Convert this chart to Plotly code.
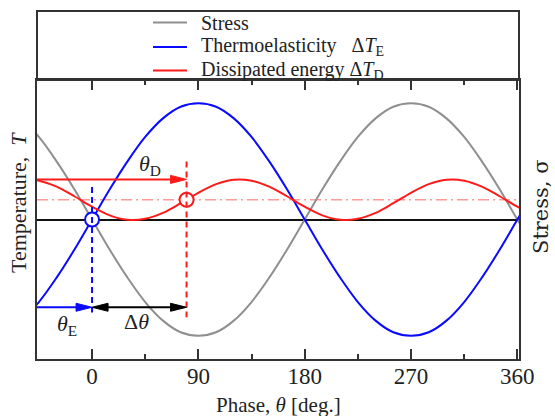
import plotly.graph_objects as go

# ---------------- data ----------------
phase = [-60, -45, -30, -15, 0, 15, 30, 45, 60, 75, 90, 105, 120, 135, 150, 165,
         180, 195, 210, 225, 240, 255, 270, 285, 300, 315, 330, 345, 360, 375]
stress = [0.87, 0.71, 0.5, 0.26, 0, -0.26, -0.5, -0.71, -0.87, -0.97, -1, -0.97,
          -0.87, -0.71, -0.5, -0.26, 0, 0.26, 0.5, 0.71, 0.87, 0.97, 1, 0.97,
          0.87, 0.71, 0.5, 0.26, 0, -0.26]
thermo = [-0.87, -0.71, -0.5, -0.26, 0, 0.26, 0.5, 0.71, 0.87, 0.97, 1, 0.97,
          0.87, 0.71, 0.5, 0.26, 0, -0.26, -0.5, -0.71, -0.87, -0.97, -1, -0.97,
          -0.87, -0.71, -0.5, -0.26, 0, 0.26]
dissip = [0.342, 0.334, 0.283, 0.200, 0.110, 0.036, -0.002, 0.006, 0.057, 0.140,
          0.230, 0.304, 0.342, 0.334, 0.283, 0.200, 0.110, 0.036, -0.002, 0.006,
          0.057, 0.140, 0.230, 0.304, 0.342, 0.334, 0.283, 0.200, 0.110, 0.036]
series_names = ["Stress",
                "Thermoelasticity\u00a0\u00a0\u00a0Δ<i>T</i><sub>E</sub>",
                "Dissipated energy Δ<i>T</i><sub>D</sub>"]
theta_E = 0
theta_D = 80
mean_D = 0.17
arrow_D_level = 0.345
arrow_E_level = -0.755
xticks = [0, 90, 180, 270, 360]
xtick_labels = ["0", "90", "180", "270", "360"]
minor_ticks = [45, 135, 225, 315]

# ---------------- styling ----------------
FONT = "Liberation Serif"
GRAY = "#8f8f8f"
BLUE = "#0a0aff"
RED = "#ff1a1a"
LRED = "#ff9a9a"
AX = "#333333"
TXT = "#222222"

W, H = 555, 416
ML, MR, MT, MB = 37, 36, 11, 57
PW, PH = W - ML - MR, H - MT - MB
XR = [-46.6, 361.4]
YR = [-1.2, 1.2]
MAIN_TOP_PX = 80
main_top_frac = (H - MB - MAIN_TOP_PX) / PH

px_x = PW / (XR[1] - XR[0])                        # px per degree
px_y = (H - MB - MAIN_TOP_PX) / (YR[1] - YR[0])    # px per unit


def pxp(px):   # pixel x -> paper
    return (px - ML) / PW


def pyp(py):   # pixel y -> paper
    return (H - MB - py) / PH


fig = go.Figure()

colors = [GRAY, BLUE, RED]
for name, ys, c in zip(series_names, [stress, thermo, dissip], colors):
    fig.add_trace(go.Scatter(x=phase, y=ys, mode="lines", name=name, showlegend=False,
                             line=dict(color=c, width=2, shape="spline")))

# mean dissipated level (dash-dot)
fig.add_shape(type="line", x0=XR[0], x1=XR[1], y0=mean_D, y1=mean_D,
              line=dict(color=LRED, width=1.5, dash="11px,4px,2px,4px"), layer="below")

# phase markers (dashed verticals)
fig.add_shape(type="line", x0=theta_E, x1=theta_E, y0=0.28, y1=-0.80,
              line=dict(color=BLUE, width=2, dash="6px,4px"))
fig.add_shape(type="line", x0=theta_D, x1=theta_D, y0=0.50, y1=-0.84,
              line=dict(color=RED, width=2, dash="6px,4px"))

HL = 16 / px_x   # arrow head length in degrees
HW = 4 / px_y    # arrow half width in units


def head(tip_x, y, direction, color):
    bx = tip_x - direction * HL
    path = f"M {tip_x},{y} L {bx},{y + HW} L {bx},{y - HW} Z"
    fig.add_shape(type="path", path=path, fillcolor=color,
                  line=dict(color=color, width=1))


def arrow(x0, x1, y, color, both=False):
    start = x0 + (HL if both else 0)
    fig.add_shape(type="line", x0=start, x1=x1 - HL * 0.8, y0=y, y1=y,
                  line=dict(color=color, width=2))
    head(x1, y, 1, color)
    if both:
        head(x0, y, -1, color)


arrow(XR[0], theta_D, arrow_D_level, RED)
arrow(XR[0], theta_E, arrow_E_level, BLUE)
arrow(theta_E, theta_D, arrow_E_level, "black", both=True)

# open circles
fig.add_trace(go.Scatter(x=[theta_E], y=[0], mode="markers", showlegend=False,
                         marker=dict(symbol="circle", size=14, color="white",
                                     line=dict(color=BLUE, width=2))))
fig.add_trace(go.Scatter(x=[theta_D], y=[mean_D], mode="markers", showlegend=False,
                         marker=dict(symbol="circle", size=14, color="white",
                                     line=dict(color=RED, width=2))))

# labels
lab_font = dict(family=FONT, size=22, color=TXT)
for lx, ly, lt in [(49, 0.47, "<i>θ</i><sub>D</sub>"),
                   (-21, -0.91, "<i>θ</i><sub>E</sub>"),
                   (38, -0.88, "Δ<i>θ</i>")]:
    fig.add_annotation(x=lx, y=ly, text=lt, showarrow=False, font=lab_font,
                       xanchor="center", yanchor="middle")

# axis titles as annotations
fig.add_annotation(xref="paper", yref="paper", x=pxp(18), y=pyp(203),
                   xanchor="center", yanchor="middle",
                   text="Temperature,\u00a0\u00a0<i>T</i>", textangle=-90, showarrow=False,
                   font=dict(family=FONT, size=22, color=TXT))
fig.add_annotation(xref="paper", yref="paper", x=pxp(541), y=pyp(207),
                   xanchor="center", yanchor="middle",
                   text="Stress, σ", textangle=-90, showarrow=False,
                   font=dict(family="DejaVu Serif", size=21, color=TXT))
fig.add_annotation(xref="paper", yref="paper", x=pxp(278), y=pyp(405),
                   xanchor="center", yanchor="middle",
                   text="Phase, <i>θ</i> [deg.]", showarrow=False,
                   font=dict(family=FONT, size=21, color=TXT))

# legend box with entries
fig.add_shape(type="rect", xref="paper", yref="paper", x0=0, x1=1, y0=main_top_frac, y1=1,
              line=dict(color=AX, width=2))
legend_rows_px = [22.5, 47, 70.5]
for name, c, ry in zip(series_names, colors, legend_rows_px):
    fig.add_shape(type="line", xref="paper", yref="paper", x0=pxp(153), x1=pxp(187),
                  y0=pyp(ry), y1=pyp(ry), line=dict(color=c, width=2))
    fig.add_annotation(xref="paper", yref="paper", x=pxp(199), y=pyp(ry),
                       xanchor="left", yanchor="middle", text=name, showarrow=False,
                       font=dict(family=FONT, size=20, color=TXT))

fig.update_layout(
    width=W, height=H,
    margin=dict(l=ML, r=MR, t=MT, b=MB),
    paper_bgcolor="white", plot_bgcolor="white",
    font=dict(family=FONT, size=20, color=TXT),
    showlegend=False,
    xaxis=dict(range=XR, tickmode="array", tickvals=xticks, ticktext=xtick_labels,
               ticks="inside", ticklen=10, tickwidth=2, tickcolor=AX,
               showline=True, linecolor=AX, linewidth=2, mirror="ticks",
               showgrid=False, zeroline=False, ticklabelstandoff=-5,
               tickfont=dict(family=FONT, size=23, color=TXT),
               minor=dict(tickmode="array", tickvals=minor_ticks,
                          ticks="inside", ticklen=5, tickwidth=1.5, tickcolor=AX)),
    yaxis=dict(range=YR, domain=[0, main_top_frac], showticklabels=False, ticks="",
               showline=True, linecolor=AX, linewidth=2, mirror=True,
               showgrid=False, zeroline=True, zerolinecolor="#111", zerolinewidth=2),
)

fig.write_html("out.html", config={"displayModeBar": False},
               post_script="document.body.style.margin='0';")
